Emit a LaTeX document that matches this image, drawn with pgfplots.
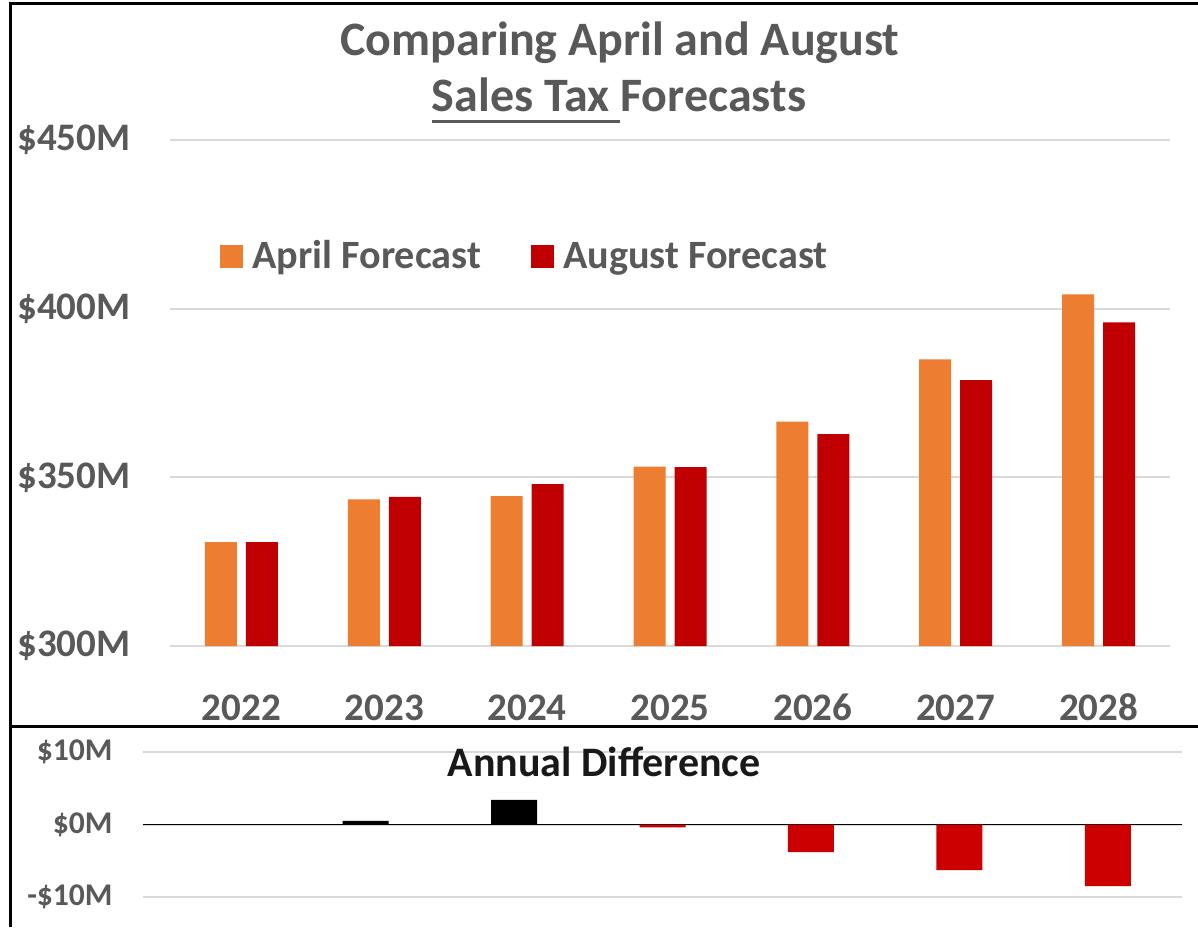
\documentclass[border=0pt]{standalone}
\usepackage{pgfplots}
\pgfplotsset{compat=1.18}
\usepackage{fontspec}
\setmainfont{Carlito}
\definecolor{txt}{HTML}{595959}
\definecolor{apr}{HTML}{ED7D31}
\definecolor{aug}{HTML}{C00000}
\definecolor{neg}{HTML}{CC0000}
\definecolor{grd}{HTML}{D9D9D9}
\newlength\ulw
\newcommand\myul[1]{\settowidth\ulw{#1}\rlap{\rule[-5.6pt]{\ulw}{1.4pt}}#1}
\pgfplotsset{sq legend/.style={legend image code/.code={\fill[##1,draw=none] (0pt,0pt) rectangle (11.5pt,11.5pt);}}}
\begin{document}
\begin{tikzpicture}
\useasboundingbox (0,0) rectangle (599pt,463.5pt);
\draw[line width=1.5pt] (5pt,0pt) -- (5pt,461.5pt) -- (599pt,461.5pt);
\draw[line width=1.5pt] (5pt,100.5pt) -- (599pt,100.5pt);
\node[anchor=base, font=\bfseries\fontsize{24}{28}\selectfont, text=txt] at (310pt,435.5pt) {Comparing April and August};
\node[anchor=base, font=\bfseries\fontsize{24}{28}\selectfont, text=txt] at (309.5pt,407.5pt) {\myul{Sales Tax\ }Forecasts};
\begin{axis}[
  at={(85pt,140.5pt)}, anchor=south west, scale only axis,
  width=500pt, height=253pt,
  xmin=-0.5, xmax=6.5, ymin=300, ymax=450,
  axis line style={draw=none}, tick style={draw=none},
  ybar=4.5pt, bar width=16pt,
  ytick={300,350,400,450}, yticklabels={\$300M,\$350M,\$400M,\$450M},
  xtick={0,1,2,3,4,5,6}, xticklabels={2022,2023,2024,2025,2026,2027,2028},
  ymajorgrids, grid style={grd, line width=1pt},
  ticklabel style={font=\bfseries\fontsize{19.5}{22}\selectfont, text=txt, inner sep=0pt},
  yticklabel style={xshift=-19.5pt},
  xticklabel style={anchor=base, yshift=-33pt},
  legend columns=2,
  legend style={draw=none, fill=none, at={(0.05,0.771)}, anchor=west, inner sep=0pt,
    font=\bfseries\fontsize{20.1}{24}\selectfont, text=txt,
    cells={anchor=base west},
    nodes={inner xsep=4.5pt, inner ysep=0pt},
    /tikz/every even column/.append style={column sep=20.5pt}},
]
\addplot[fill=apr, draw=none, sq legend] coordinates {(0,330.8) (1,343.5) (2,344.4) (3,353.2) (4,366.5) (5,385.0) (6,404.2)};
\addplot[fill=aug, draw=none, sq legend] coordinates {(0,330.8) (1,344.2) (2,348.0) (3,353.0) (4,362.8) (5,378.8) (6,395.9)};
\legend{April Forecast, August Forecast}
\end{axis}
\begin{axis}[
  at={(71.5pt,15pt)}, anchor=south west, scale only axis,
  width=519.5pt, height=72.5pt,
  xmin=-0.5, xmax=6.5, ymin=-10, ymax=10,
  axis line style={draw=none}, tick style={draw=none},
  ybar, bar width=23pt,
  ytick={-10,0,10}, yticklabels={-\$10M,\$0M,\$10M},
  xtick=\empty,
  ymajorgrids, grid style={grd, line width=1pt},
  extra y ticks={0}, extra y tick labels={},
  extra y tick style={grid style={black, line width=0.75pt}},
  ticklabel style={font=\bfseries\fontsize{15.8}{18}\selectfont, text=txt, inner sep=0pt},
  yticklabel style={xshift=-15pt},
]
\addplot[fill=black, draw=none, bar shift=0pt] coordinates {(1,0.5) (2,3.4)};
\addplot[fill=neg, draw=none, bar shift=0pt] coordinates {(3,-0.4) (4,-3.8) (5,-6.3) (6,-8.5)};
\end{axis}
\node[anchor=base, font=\bfseries\fontsize{21}{24}\selectfont, text=black!90] at (302pt,75.5pt) {Annual Difference};
\end{tikzpicture}
\end{document}
